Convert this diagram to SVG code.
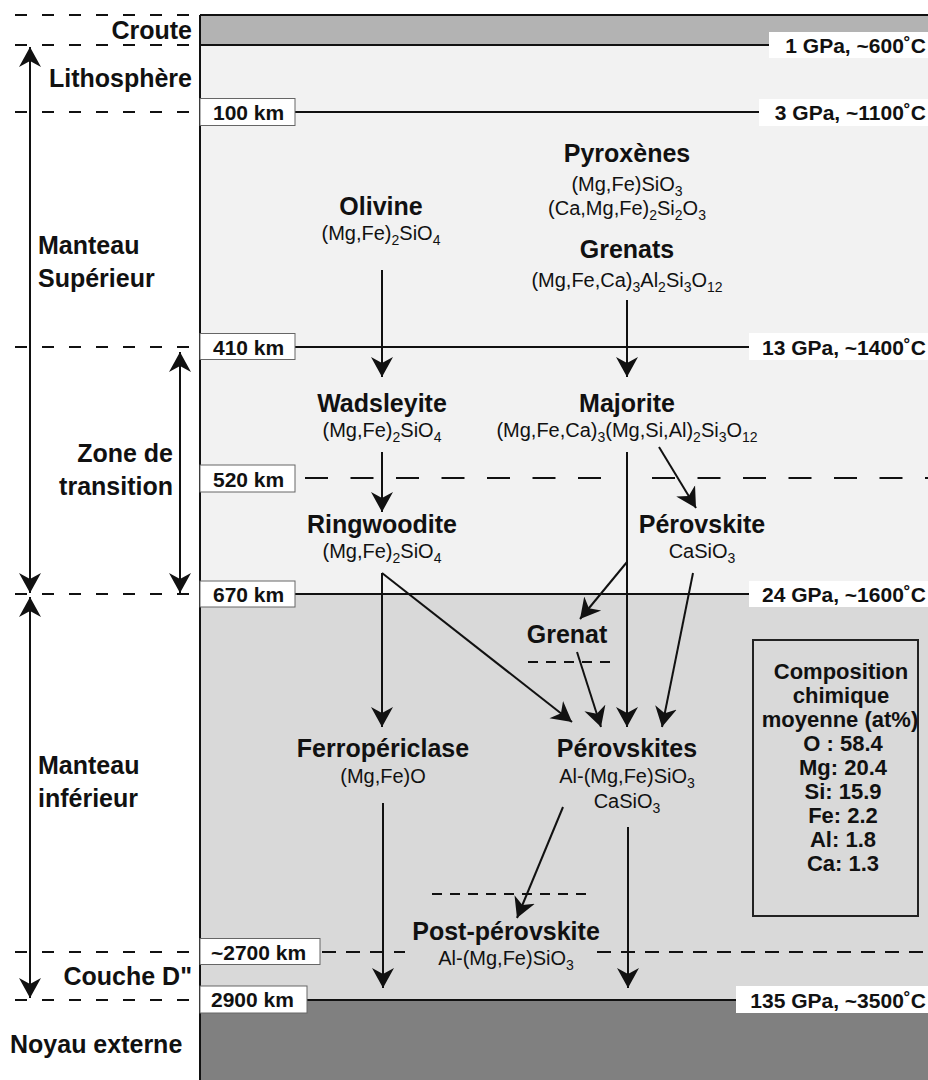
<svg xmlns="http://www.w3.org/2000/svg" width="928" height="1080" viewBox="0 0 928 1080">
<defs>
<style>
text{font-family:"Liberation Sans",Arial,sans-serif;fill:#111}
.h{font-weight:bold;font-size:25px}
.f{font-size:20px}
.s{font-size:14px}
.lb{font-weight:bold;font-size:21px}
.cb{font-weight:bold;font-size:22px}
.mid{text-anchor:middle}
.end{text-anchor:end}
.solid{stroke:#111;stroke-width:2;fill:none}
.ldash{stroke:#111;stroke-width:2;fill:none;stroke-dasharray:12 15}
.arr{stroke:#111;stroke-width:2;fill:none;marker-end:url(#ah)}
.dbl{stroke:#111;stroke-width:2;fill:none;marker-end:url(#ah);marker-start:url(#ah)}
.box{fill:#fff;stroke:#666;stroke-width:1}
.rbox{fill:#fff;stroke:none}
</style>
<marker id="ah" viewBox="-20 -12 22 24" refX="0" refY="0" markerWidth="22" markerHeight="24" markerUnits="userSpaceOnUse" orient="auto-start-reverse">
<path d="M0,0 L-20,-11 L-14,0 L-20,11 Z" fill="#111"/>
</marker>
</defs>
<rect x="0" y="0" width="928" height="1080" fill="#fff"/>
<g id="layers">
<rect x="200" y="15" width="728" height="30" fill="#b3b3b3"/>
<rect x="200" y="45" width="728" height="549" fill="#f2f2f2"/>
<rect x="200" y="594" width="728" height="406" fill="#d9d9d9"/>
<rect x="200" y="1000" width="728" height="80" fill="#808080"/>
<line class="solid" x1="200" y1="15" x2="928" y2="15"/>
<line class="solid" x1="200" y1="15" x2="200" y2="1080"/>
<line class="solid" x1="200" y1="45" x2="770" y2="45"/>
<line class="solid" x1="295" y1="112" x2="760" y2="112"/>
<line class="solid" x1="295" y1="347" x2="750" y2="347"/>
<line class="solid" x1="295" y1="594" x2="750" y2="594"/>
<line class="solid" x1="307" y1="1000" x2="737" y2="1000"/>
<path d="M305,478 H602 M652,478 H928" stroke="#111" stroke-width="2" fill="none" stroke-dasharray="23 22.5"/>
<path d="M322,952 H405 M597,952 H928" stroke="#111" stroke-width="2" fill="none" stroke-dasharray="14 10"/>
<line x1="528" y1="662" x2="612" y2="662" stroke="#111" stroke-width="2" stroke-dasharray="10 8"/>
<line x1="432" y1="894" x2="588" y2="894" stroke="#111" stroke-width="2" stroke-dasharray="10 8"/>
<line class="ldash" x1="15" y1="15" x2="195" y2="15"/>
<line class="ldash" x1="15" y1="45" x2="195" y2="45"/>
<line class="ldash" x1="15" y1="112" x2="195" y2="112"/>
<line class="ldash" x1="15" y1="347" x2="195" y2="347"/>
<line class="ldash" x1="15" y1="594" x2="195" y2="594"/>
<line class="ldash" x1="15" y1="952" x2="195" y2="952"/>
<line class="ldash" x1="15" y1="1000" x2="195" y2="1000"/>
</g>
<g id="depth-labels">
<rect class="box" x="200" y="98.5" width="95" height="27"/><text class="lb" x="213" y="120">100 km</text>
<rect class="box" x="200" y="333.5" width="95" height="26"/><text class="lb" x="213" y="355">410 km</text>
<rect class="box" x="200" y="465" width="95" height="27"/><text class="lb" x="213" y="487">520 km</text>
<rect class="box" x="200" y="581" width="95" height="26"/><text class="lb" x="213" y="602">670 km</text>
<rect class="box" x="200" y="938.5" width="120" height="26"/><text class="lb" x="211" y="960">~2700 km</text>
<rect class="box" x="200" y="986" width="107" height="27"/><text class="lb" x="211" y="1007">2900 km</text>
</g>
<g id="pt-labels">
<rect class="rbox" x="769" y="32" width="159" height="26"/><text class="lb end" x="926" y="53">1 GPa, ~600˚C</text>
<rect class="rbox" x="759" y="99" width="169" height="27"/><text class="lb end" x="926" y="120">3 GPa, ~1100˚C</text>
<rect class="rbox" x="749" y="333" width="179" height="27"/><text class="lb end" x="926" y="355">13 GPa, ~1400˚C</text>
<rect class="rbox" x="749" y="581" width="179" height="26"/><text class="lb end" x="926" y="602">24 GPa, ~1600˚C</text>
<rect class="rbox" x="736" y="986" width="192" height="27"/><text class="lb end" x="926" y="1008">135 GPa, ~3500˚C</text>
</g>
<g id="left-labels">
<text class="h end" x="192" y="39">Croute</text>
<text class="h end" x="192" y="87">Lithosphère</text>
<text class="h" x="38" y="254">Manteau</text>
<text class="h" x="38" y="287">Supérieur</text>
<text class="h end" x="173" y="462">Zone de</text>
<text class="h end" x="173" y="495">transition</text>
<text class="h" x="38" y="774">Manteau</text>
<text class="h" x="38" y="807">inférieur</text>
<text class="h end" x="192" y="985">Couche D"</text>
<text class="h" x="10" y="1053">Noyau externe</text>
</g>
<g id="olivine">
<text class="h mid" x="381" y="215">Olivine</text>
<text class="f mid" x="381" y="240">(Mg,Fe)<tspan class="s" dy="5">2</tspan><tspan dy="-5">SiO</tspan><tspan class="s" dy="5">4</tspan></text>
</g>
<g id="pyroxenes">
<text class="h mid" x="627" y="162">Pyroxènes</text>
<text class="f mid" x="627" y="191">(Mg,Fe)SiO<tspan class="s" dy="5">3</tspan></text>
<text class="f mid" x="627" y="215">(Ca,Mg,Fe)<tspan class="s" dy="5">2</tspan><tspan dy="-5">Si</tspan><tspan class="s" dy="5">2</tspan><tspan dy="-5">O</tspan><tspan class="s" dy="5">3</tspan></text>
</g>
<g id="grenats">
<text class="h mid" x="627" y="258">Grenats</text>
<text class="f mid" x="627" y="287">(Mg,Fe,Ca)<tspan class="s" dy="5">3</tspan><tspan dy="-5">Al</tspan><tspan class="s" dy="5">2</tspan><tspan dy="-5">Si</tspan><tspan class="s" dy="5">3</tspan><tspan dy="-5">O</tspan><tspan class="s" dy="5">12</tspan></text>
</g>
<g id="wadsleyite">
<text class="h mid" x="382" y="412">Wadsleyite</text>
<text class="f mid" x="382" y="437">(Mg,Fe)<tspan class="s" dy="5">2</tspan><tspan dy="-5">SiO</tspan><tspan class="s" dy="5">4</tspan></text>
</g>
<g id="majorite">
<text class="h mid" x="627" y="412">Majorite</text>
<text class="f mid" x="627" y="437">(Mg,Fe,Ca)<tspan class="s" dy="5">3</tspan><tspan dy="-5">(Mg,Si,Al)</tspan><tspan class="s" dy="5">2</tspan><tspan dy="-5">Si</tspan><tspan class="s" dy="5">3</tspan><tspan dy="-5">O</tspan><tspan class="s" dy="5">12</tspan></text>
</g>
<g id="ringwoodite">
<text class="h mid" x="382" y="533">Ringwoodite</text>
<text class="f mid" x="382" y="558">(Mg,Fe)<tspan class="s" dy="5">2</tspan><tspan dy="-5">SiO</tspan><tspan class="s" dy="5">4</tspan></text>
</g>
<g id="perovskite-ca">
<text class="h mid" x="702" y="533">Pérovskite</text>
<text class="f mid" x="702" y="558">CaSiO<tspan class="s" dy="5">3</tspan></text>
</g>
<g id="grenat">
<text class="h mid" x="567" y="643">Grenat</text>
</g>
<g id="ferropericlase">
<text class="h mid" x="383" y="757">Ferropériclase</text>
<text class="f mid" x="383" y="783">(Mg,Fe)O</text>
</g>
<g id="perovskites">
<text class="h mid" x="627" y="757">Pérovskites</text>
<text class="f mid" x="627" y="783">Al-(Mg,Fe)SiO<tspan class="s" dy="5">3</tspan></text>
<text class="f mid" x="627" y="808">CaSiO<tspan class="s" dy="5">3</tspan></text>
</g>
<g id="post-perovskite">
<text class="h mid" x="506" y="940">Post-pérovskite</text>
<text class="f mid" x="506" y="965">Al-(Mg,Fe)SiO<tspan class="s" dy="5">3</tspan></text>
</g>
<g id="composition">
<rect x="753" y="640" width="165" height="276" fill="#d9d9d9" stroke="#222" stroke-width="2"/>
<text class="cb mid" x="841" y="679">Composition</text>
<text class="cb mid" x="841" y="703">chimique</text>
<text class="cb mid" x="840" y="727">moyenne (at%)</text>
<text class="cb mid" x="843" y="751">O : 58.4</text>
<text class="cb mid" x="843" y="775">Mg: 20.4</text>
<text class="cb mid" x="843" y="799">Si: 15.9</text>
<text class="cb mid" x="843" y="823">Fe: 2.2</text>
<text class="cb mid" x="843" y="847">Al: 1.8</text>
<text class="cb mid" x="843" y="871">Ca: 1.3</text>
</g>
<g id="connectors">
<line class="arr" x1="382" y1="270" x2="382" y2="377"/>
<line class="arr" x1="627" y1="300" x2="627" y2="377"/>
<line class="arr" x1="382" y1="452" x2="382" y2="512"/>
<line class="arr" x1="627" y1="452" x2="627" y2="727"/>
<line class="arr" x1="659" y1="447" x2="696" y2="508"/>
<line class="arr" x1="627" y1="562" x2="580" y2="619"/>
<line class="arr" x1="693" y1="573" x2="662" y2="727"/>
<line class="arr" x1="577" y1="652" x2="601" y2="727"/>
<line class="arr" x1="382" y1="573" x2="572" y2="722"/>
<line class="arr" x1="382" y1="573" x2="382" y2="727"/>
<line class="arr" x1="383" y1="803" x2="383" y2="988"/>
<line class="arr" x1="563" y1="807" x2="517" y2="918"/>
<line class="arr" x1="628" y1="827" x2="628" y2="988"/>
<line class="dbl" x1="30" y1="47" x2="30" y2="593"/>
<line class="dbl" x1="30" y1="597" x2="30" y2="998"/>
<line class="dbl" x1="180" y1="352" x2="180" y2="593"/>
</g>
</svg>
